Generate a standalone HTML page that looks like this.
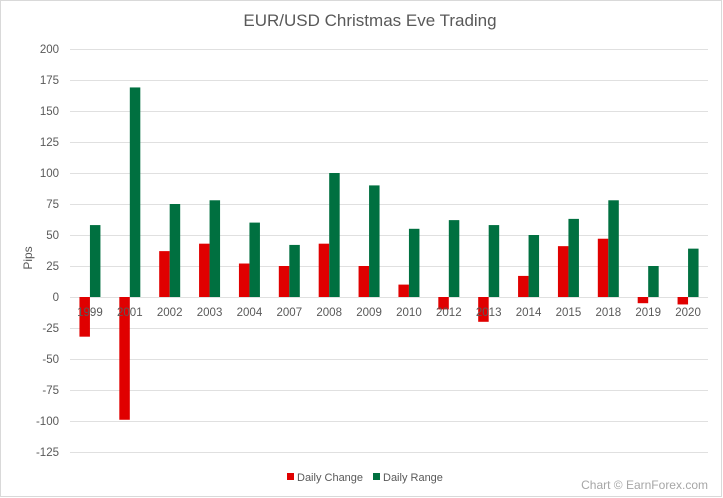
<!DOCTYPE html>
<html><head><meta charset="utf-8"><style>
body{margin:0;background:#fff}
svg{display:block;font-family:"Liberation Sans",sans-serif}
</style></head><body>
<svg width="723" height="498" viewBox="0 0 723 498">
<rect x="0.5" y="0.5" width="721" height="496" fill="#fff" stroke="#d9d9d9"/>
<text x="370" y="26" text-anchor="middle" font-size="17" fill="#595959">EUR/USD Christmas Eve Trading</text>
<g id="g" stroke="#e0e0e0" stroke-width="1"></g>
<g id="b"></g>
<g id="t" font-size="11.5" fill="#595959"></g>
<text transform="translate(32,258) rotate(-90)" text-anchor="middle" font-size="12" fill="#595959">Pips</text>
<rect x="287" y="473" width="7" height="7" fill="#e00000"/>
<text x="297" y="481" font-size="11" fill="#595959">Daily Change</text>
<rect x="373" y="473" width="7" height="7" fill="#007040"/>
<text x="383" y="481" font-size="11" fill="#595959">Daily Range</text>
<text x="708" y="489" text-anchor="end" font-size="12" fill="#a6a6a6">Chart © EarnForex.com</text>
</svg>
<script>
var ns="http://www.w3.org/2000/svg";
function el(p,n,a,txt){var e=document.createElementNS(ns,n);for(var k in a)e.setAttribute(k,a[k]);if(txt!=null)e.textContent=txt;document.getElementById(p).appendChild(e);return e;}
var y0=297,s=1.24,L=70,R=708,W=(R-L)/16;
function Y(v){return y0-v*s;}
for(var v=-125;v<=200;v+=25){
 el("g","line",{x1:L,x2:R,y1:Y(v)+.5,y2:Y(v)+.5});
 el("t","text",{x:59,y:Y(v)+4,"text-anchor":"end"},v);
}
var d=[["1999",-32,58],["2001",-99,169],["2002",37,75],["2003",43,78],["2004",27,60],["2007",25,42],["2008",43,100],["2009",25,90],["2010",10,55],["2012",-10,62],["2013",-20,58],["2014",17,50],["2015",41,63],["2018",47,78],["2019",-5,25],["2020",-6,39]];
d.forEach(function(r,i){
 var c=L+W*(i+.5),bw=10.5;
 el("t","text",{x:c,y:316,"text-anchor":"middle"},r[0]);
 el("b","rect",{x:c-bw,y:Math.min(Y(r[1]),y0),width:bw,height:Math.abs(r[1])*s,fill:"#e00000"});
 el("b","rect",{x:c,y:Y(r[2]),width:bw,height:r[2]*s,fill:"#007040"});
});
</script>
</body></html>
